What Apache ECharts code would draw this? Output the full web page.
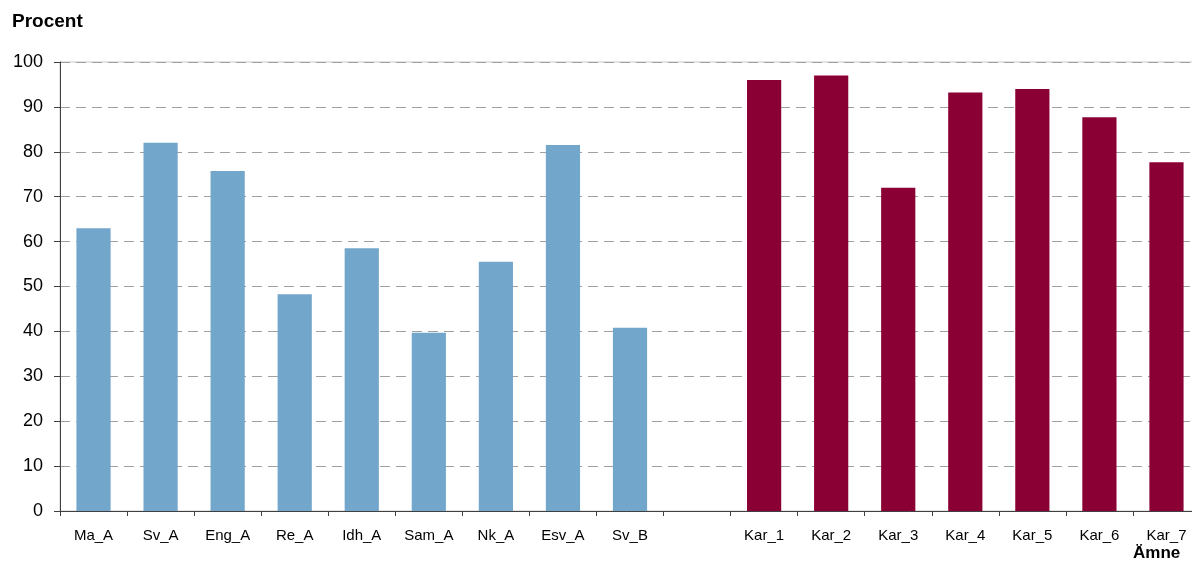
<!DOCTYPE html>
<html><head><meta charset="utf-8">
<script src="https://cdn.jsdelivr.net/npm/echarts@6/dist/echarts.min.js"></script>
<style>html,body{margin:0;padding:0;background:#fff}#c{width:1192px;height:563px}</style>
</head><body><div id="c"></div>
<script>
const categories = ["Ma_A","Sv_A","Eng_A","Re_A","Idh_A","Sam_A","Nk_A","Esv_A","Sv_B","","Kar_1","Kar_2","Kar_3","Kar_4","Kar_5","Kar_6","Kar_7"];
const values = [63,82,75.7,48.3,58.5,39.7,55.5,81.5,40.8,null,96,97,72,93.2,94,87.7,77.7];
const groups = ["A","A","A","A","A","A","A","A","A","-","K","K","K","K","K","K","K"];
const yTicks = {min:0,max:100,interval:10};
const colorMap = {A:"#72a6cb",K:"#8b0034","-":"#fff"};
const font = "'Liberation Sans', Arial, sans-serif";
const chart = echarts.init(document.getElementById('c'));
chart.setOption({
  animation:false,
  grid:{left:60,width:1140,top:62,bottom:52,show:true,borderColor:'#c8c8c8',borderWidth:1,
    outerBoundsMode:'none',containLabel:false},
  graphic:[
    {type:'text',left:12,top:12,style:{text:'Procent',font:"bold 19px "+font,fill:'#000'}},
    {type:'text',left:1133,top:545,style:{text:'Ämne',font:"bold 17px "+font,fill:'#000'}}
  ],
  xAxis:{type:'category',data:categories,boundaryGap:true,
    axisLine:{lineStyle:{color:'#404040',width:1}},
    axisTick:{show:true,alignWithLabel:false,length:5,lineStyle:{color:'#404040'},interval:0},
    axisLabel:{color:'#000',fontFamily:font,fontSize:15,margin:17,interval:0}},
  yAxis:{type:'value',min:yTicks.min,max:yTicks.max,interval:yTicks.interval,
    axisLine:{show:true,lineStyle:{color:'#404040'}},
    axisTick:{show:true,length:6,lineStyle:{color:'#404040'}},
    axisLabel:{color:'#000',fontFamily:font,fontSize:18,margin:17},
    splitLine:{lineStyle:{color:'#a0a0a0',type:[10,6]}}},
  series:[{type:'bar',barWidth:'51%',
    data:values.map((v,i)=>({value:v,itemStyle:{color:colorMap[groups[i]]}}))}]
});
</script></body></html>
